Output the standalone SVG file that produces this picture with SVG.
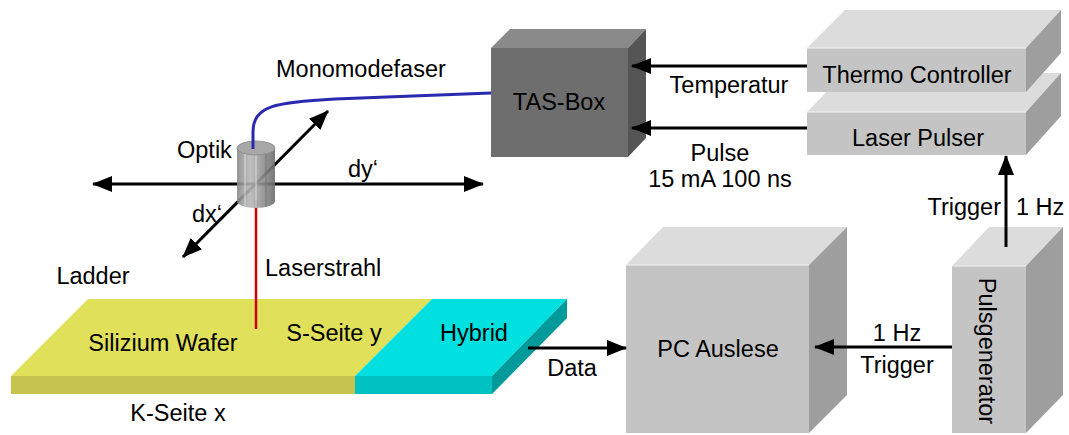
<svg xmlns="http://www.w3.org/2000/svg" width="1069" height="435" viewBox="0 0 1069 435">
  <style>
    text { font-family: "Liberation Sans", Arial, sans-serif; font-size: 23.5px; fill: #000; }
    .mid { text-anchor: middle; }
    .wire { stroke: #000; stroke-width: 3; fill: none; }
    .front { fill: #c4c4c4; }
    .top { fill: #dcdcdc; }
    .side { fill: #9e9e9e; }
    .edge { stroke: #f2f2f2; stroke-width: 1; fill: none; }
  </style>
  <defs>
    <marker id="head" viewBox="0 0 20 16" refX="19" refY="8" markerWidth="20" markerHeight="16" markerUnits="userSpaceOnUse" orient="auto-start-reverse">
      <path d="M0,0 L20,8 L0,16 Z" fill="#000"/>
    </marker>
    <linearGradient id="cyl" x1="0" y1="0" x2="1" y2="0">
      <stop offset="0" stop-color="#8a8a8a"/>
      <stop offset="0.35" stop-color="#b8b8b8"/>
      <stop offset="0.6" stop-color="#9a9a9a"/>
      <stop offset="1" stop-color="#6a6a6a"/>
    </linearGradient>
  </defs>

  <rect width="1069" height="435" fill="#fff"/>

  <!-- Ladder: silicon wafer and hybrid -->
  <g id="ladder">
    <polygon points="88,299 432,299 355,376 11,376" fill="#e0e05a"/>
    <rect x="11" y="376" width="344" height="18" fill="#c6c44e"/>
    <polygon points="432,299 567,299 492,376 355,376" fill="#00e0e0"/>
    <rect x="355" y="376" width="137" height="18" fill="#00c2c2"/>
    <polygon points="492,376 567,299 567,318 492,394" fill="#009a9a"/>
    <text x="93" y="284" class="mid">Ladder</text>
    <text x="163" y="351" class="mid">Silizium Wafer</text>
    <text x="334" y="341" class="mid">S-Seite y</text>
    <text x="474" y="341" class="mid">Hybrid</text>
    <text x="178" y="421" class="mid">K-Seite x</text>
  </g>

  <!-- Laser beam -->
  <g id="laserstrahl">
    <line x1="256" y1="200" x2="256" y2="329" stroke="#cc0000" stroke-width="2.5"/>
    <text x="265" y="276">Laserstrahl</text>
  </g>

  <!-- Optics movement axes -->
  <g id="axes">
    <line x1="93" y1="184" x2="483" y2="184" class="wire" marker-start="url(#head)" marker-end="url(#head)"/>
    <line x1="183" y1="257" x2="328" y2="111" class="wire" marker-start="url(#head)" marker-end="url(#head)"/>
    <text x="348" y="177">dy‘</text>
    <text x="192" y="222">dx‘</text>
  </g>

  <!-- Optics head -->
  <g id="optik">
    <path d="M237,148 L237,201 A19,7 0 0 0 275,201 L275,148 Z" fill="url(#cyl)" opacity="0.9"/>
    <line x1="245" y1="153" x2="245" y2="206" stroke="#d8d8d8" stroke-width="1"/>
    <line x1="256" y1="155" x2="256" y2="208" stroke="#d8d8d8" stroke-width="1"/>
    <line x1="266" y1="154" x2="266" y2="207" stroke="#777" stroke-width="1"/>
    <ellipse cx="256" cy="148" rx="19" ry="7" fill="#a8a8a8" stroke="#888" stroke-width="0.8"/>
    <text x="177" y="158">Optik</text>
  </g>

  <!-- Single-mode fibre -->
  <g id="monomodefaser">
    <path d="M253,149 L253,132 C253,106 275,102 335,99 L491,93" fill="none" stroke="#2a2ab0" stroke-width="3"/>
    <text x="276" y="77">Monomodefaser</text>
  </g>

  <!-- TAS-Box -->
  <g id="tas-box">
    <polygon points="491,48 510,29 646,29 628,48" fill="#8a8a8a"/>
    <polygon points="628,48 646,29 646,138 628,157" fill="#555"/>
    <rect x="491" y="48" width="137" height="109" fill="#6e6e6e"/>
    <text x="559" y="110" class="mid">TAS-Box</text>
  </g>

  <!-- Laser Pulser (lower box, drawn first so the upper box sits over its top face) -->
  <g id="laser-pulser">
    <polygon points="807,112 845,73 1061,73 1026,112" class="top"/>
    <polygon points="1026,112 1061,73 1061,116 1026,155" class="side"/>
    <rect x="807" y="112" width="219" height="43" class="front"/>
    <line x1="807" y1="112" x2="1026" y2="112" class="edge"/>
    <text x="918" y="146" class="mid">Laser Pulser</text>
  </g>

  <!-- Thermo Controller -->
  <g id="thermo-controller">
    <polygon points="807,48 845,10 1061,10 1026,48" class="top"/>
    <polygon points="1026,48 1061,10 1061,53 1026,92" class="side"/>
    <rect x="807" y="48" width="219" height="44" class="front"/>
    <line x1="807" y1="48" x2="1026" y2="48" class="edge"/>
    <text x="917" y="83" class="mid">Thermo Controller</text>
  </g>

  <!-- PC readout -->
  <g id="pc-auslese">
    <polygon points="626,265 663,227 847,227 809,265" class="top"/>
    <polygon points="809,265 847,227 847,395 809,433" class="side"/>
    <rect x="626" y="265" width="183" height="168" class="front"/>
    <line x1="626" y1="265" x2="809" y2="265" class="edge"/>
    <text x="718" y="357" class="mid">PC Auslese</text>
  </g>

  <!-- Pulse generator -->
  <g id="pulsgenerator">
    <polygon points="952,266 989,227 1063,227 1026,266" class="top"/>
    <polygon points="1026,266 1063,227 1063,395 1026,433" class="side"/>
    <rect x="952" y="266" width="74" height="167" class="front"/>
    <line x1="952" y1="266" x2="1026" y2="266" class="edge"/>
    <text transform="translate(979,351) rotate(90)" class="mid">Pulsgenerator</text>
  </g>

  <!-- Connectors -->
  <g id="connectors">
    <line x1="807" y1="66" x2="632" y2="66" class="wire" marker-end="url(#head)"/>
    <line x1="807" y1="128" x2="632" y2="128" class="wire" marker-end="url(#head)"/>
    <line x1="1006" y1="247" x2="1006" y2="156" class="wire" marker-end="url(#head)"/>
    <line x1="952" y1="347" x2="815" y2="347" class="wire" marker-end="url(#head)"/>
    <line x1="528" y1="348" x2="626" y2="348" class="wire" marker-end="url(#head)"/>
  </g>

  <!-- Connector labels -->
  <g id="labels">
    <text x="729" y="93" class="mid">Temperatur</text>
    <text x="720" y="161" class="mid">Pulse</text>
    <text x="720" y="187" class="mid">15 mA 100 ns</text>
    <text x="1001" y="215" text-anchor="end">Trigger</text>
    <text x="1016" y="215">1 Hz</text>
    <text x="897" y="341" class="mid">1 Hz</text>
    <text x="897" y="373" class="mid">Trigger</text>
    <text x="572" y="376" class="mid">Data</text>
  </g>
</svg>
